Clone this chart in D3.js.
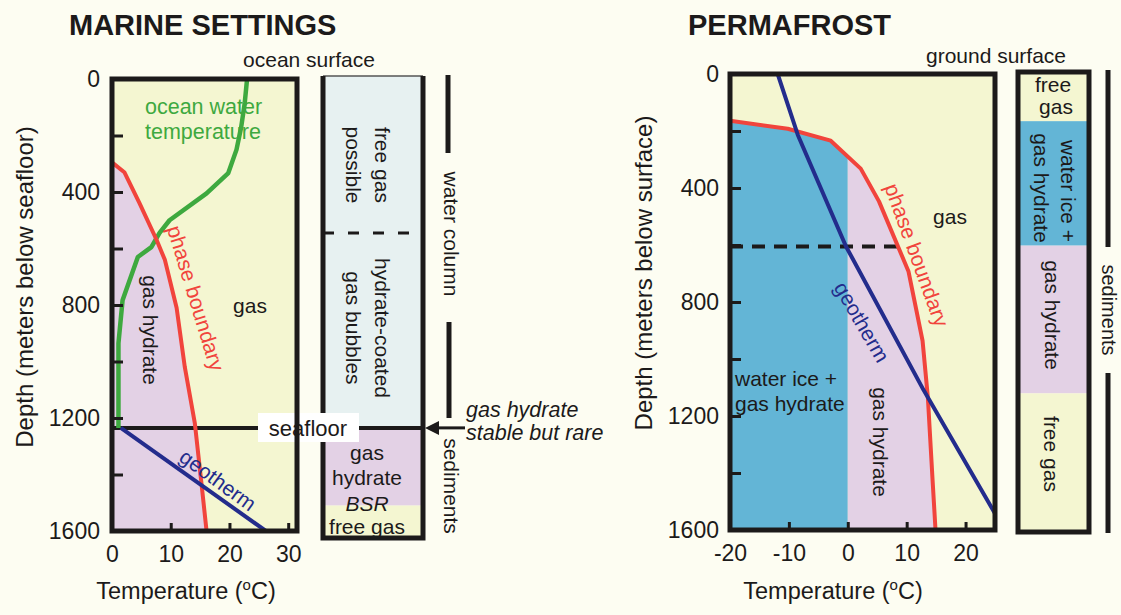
<!DOCTYPE html>
<html><head><meta charset="utf-8">
<script src="https://cdn.jsdelivr.net/npm/d3@7"></script>
<style>
html,body{margin:0;padding:0;background:#fdfdf2;}
svg{display:block;font-family:"Liberation Sans",Arial,Helvetica,sans-serif;}
</style></head><body>
<script>
// ---------- Marine settings panel ----------
const marineDepthTicks = [0, 400, 800, 1200, 1600];
const marineDepthMarks = [200, 400, 600, 800, 1000, 1200, 1400];
const marineTempTicks = [0, 10, 20, 30];
const marineTempMarks = [10, 20, 30];
// curves as [temperature °C, depth m]
const marinePhaseBoundary = [[0, 295], [2.1, 330], [4.7, 440], [7.6, 570], [9.0, 640], [11.0, 810],
  [12.4, 1020], [14.1, 1218], [15.3, 1444], [16.1, 1600]];
const oceanWaterTemperature = [[23.0, 0], [22.6, 85], [22.0, 170], [21.2, 250], [19.8, 333], [16.1, 405],
  [9.8, 500], [8.1, 545], [6.7, 595], [4.4, 630], [1.8, 783], [1.1, 935], [1.1, 1235]];
const marineGeotherm = [[1.5, 1235], [26.2, 1600]];
const seafloorDepth = 1235;
const bubbleLimitDepth = 545;
const marineColumn = [
  { zone: "water", top: 0, bottom: 1235 },
  { zone: "hydrate", top: 1235, bottom: 1510 },
  { zone: "gas", top: 1510, bottom: 1625 }
];

// ---------- Permafrost panel ----------
const permafrostDepthTicks = [0, 400, 800, 1200, 1600];
const permafrostDepthMarks = [200, 400, 600, 800, 1000, 1200, 1400];
const permafrostTempTicks = [-20, -10, 0, 10, 20];
const permafrostTempMarks = [-10, 0, 10, 20];
const permafrostPhaseBoundary = [[-20, 164], [-10.2, 192], [-2.9, 234], [2.2, 332], [5.3, 447],
  [10.3, 692], [12.7, 936], [13.6, 1135], [14.4, 1425], [14.9, 1600]];
const permafrostGeotherm = [[-11.9, 0], [-8.5, 213], [-0.3, 605], [12.9, 1110], [25.5, 1560]];
const permafrostBaseDepth = 605;
const permafrostColumn = [
  { zone: "gas", top: 0, bottom: 171 },
  { zone: "ice", top: 171, bottom: 604 },
  { zone: "hydrate", top: 604, bottom: 1118 },
  { zone: "gas", top: 1118, bottom: 1600 }
];

const zoneFill = { gas: "#f4f6d1", hydrate: "#e3d1e5", ice: "#63b5d6", water: "#e7f1f1" };
const RED = "#f1443c", GREEN = "#3ea93f", NAVY = "#232c8c", INK = "#1c1a1a";
const plainNumber = d => String(d);

const svg = d3.select("body").append("svg").attr("width", 1121).attr("height", 615);

// depth on a [T, depth] curve where it reaches temperature t
function depthAtTemp(curve, t) {
  for (let i = 1; i < curve.length; i++) {
    const [t0, d0] = curve[i - 1], [t1, d1] = curve[i];
    if ((t - t0) * (t - t1) <= 0) return d0 + (d1 - d0) * (t - t0) / (t1 - t0);
  }
  return curve[curve.length - 1][1];
}
function tempAtDepth(curve, d) {
  for (let i = 1; i < curve.length; i++) {
    const [t0, d0] = curve[i - 1], [t1, d1] = curve[i];
    if ((d - d0) * (d - d1) <= 0) return t0 + (t1 - t0) * (d - d0) / (d1 - d0);
  }
  return curve[curve.length - 1][0];
}

function text(g, str, x, y, opts = {}) {
  const t = g.append("text").attr("x", x).attr("y", y)
    .attr("font-size", opts.size || 21)
    .attr("fill", opts.fill || INK)
    .attr("text-anchor", opts.anchor || "middle")
    .attr("dominant-baseline", opts.baseline || "central")
    .text(str);
  if (opts.rotate !== undefined) t.attr("transform", `rotate(${opts.rotate},${x},${y})`);
  if (opts.italic) t.attr("font-style", "italic");
  if (opts.bold) t.attr("font-weight", "bold");
  return t;
}

function tempLabel(g, x, y) {
  const t = g.append("text").attr("x", x).attr("y", y).attr("font-size", 23.5)
    .attr("fill", INK).attr("text-anchor", "middle");
  t.append("tspan").text("Temperature (");
  t.append("tspan").attr("font-size", 15).attr("dy", -9).text("o");
  t.append("tspan").attr("dy", 9).text("C)");
}

function styleAxis(sel, size) {
  sel.select(".domain").remove();
  sel.selectAll("text").attr("font-size", size).attr("fill", INK)
    .attr("font-family", '"Liberation Sans",Arial,sans-serif');
  sel.selectAll("line").attr("stroke", INK).attr("stroke-width", 3);
}

// ======================= MARINE =======================
{
  const x = d3.scaleLinear().domain([0, 31.5]).range([112, 297]);
  const y = d3.scaleLinear().domain([0, 1600]).range([79, 531]);
  const g = svg.append("g");
  const line = d3.line().x(d => x(d[0])).y(d => y(d[1]));

  g.append("clipPath").attr("id", "clipM").append("rect")
    .attr("x", x(0)).attr("y", y(0)).attr("width", x(31.5) - x(0)).attr("height", y(1600) - y(0));

  g.append("rect").attr("x", x(0)).attr("y", y(0)).attr("width", x(31.5) - x(0))
    .attr("height", y(1600) - y(0)).attr("fill", zoneFill.gas);

  // hydrate stability field
  const last = marinePhaseBoundary[marinePhaseBoundary.length - 1];
  g.append("path").attr("d", line([...marinePhaseBoundary, [0, last[1]]]) + "Z").attr("fill", zoneFill.hydrate);

  // side column
  const colL = 323, colR = 423;
  g.selectAll("rect.zone").data(marineColumn).join("rect").attr("class", "zone")
    .attr("x", colL).attr("width", colR - colL)
    .attr("y", d => y(d.top) - (d.top === 0 ? 3 : 0)).attr("height", d => y(d.bottom) - y(d.top) + (d.top === 0 ? 3 : 0))
    .attr("fill", d => zoneFill[d.zone]);
  g.append("line").attr("x1", colL).attr("x2", colR - 10).attr("y1", y(bubbleLimitDepth)).attr("y2", y(bubbleLimitDepth))
    .attr("stroke", INK).attr("stroke-width", 3).attr("stroke-dasharray", "11,14");
  g.append("line").attr("x1", colL).attr("x2", colR).attr("y1", y(0) - 3).attr("y2", y(0) - 3)
    .attr("stroke", "#555").attr("stroke-width", 1.5);
  g.append("path").attr("d", `M${colL},${y(0) - 3}V${y(1625)}H${colR}V${y(0) - 3}`)
    .attr("fill", "none").attr("stroke", INK).attr("stroke-width", 5);

  // seafloor
  const ys = y(seafloorDepth);
  g.append("line").attr("x1", x(0)).attr("x2", colR).attr("y1", ys).attr("y2", ys)
    .attr("stroke", INK).attr("stroke-width", 4);
  g.append("line").attr("x1", colR + 12).attr("x2", 465).attr("y1", ys).attr("y2", ys)
    .attr("stroke", INK).attr("stroke-width", 3);
  g.append("path").attr("d", `M${colR + 2},${ys}L${colR + 16},${ys - 7}L${colR + 16},${ys + 7}Z`).attr("fill", INK);

  const curves = g.append("g").attr("clip-path", "url(#clipM)");
  curves.append("path").attr("d", line(oceanWaterTemperature)).attr("fill", "none")
    .attr("stroke", GREEN).attr("stroke-width", 4.5).attr("stroke-linejoin", "round");
  curves.append("path").attr("d", line(marinePhaseBoundary)).attr("fill", "none")
    .attr("stroke", RED).attr("stroke-width", 4).attr("stroke-linejoin", "round");
  curves.append("path").attr("d", line(marineGeotherm)).attr("fill", "none")
    .attr("stroke", NAVY).attr("stroke-width", 4);

  // seafloor label
  g.append("rect").attr("x", 258).attr("y", 413).attr("width", 101).attr("height", 29).attr("fill", "#fff");
  text(g, "seafloor", 308, 428, { size: 22 });

  // frame
  g.append("rect").attr("x", x(0)).attr("y", y(0)).attr("width", x(31.5) - x(0))
    .attr("height", y(1600) - y(0)).attr("fill", "none").attr("stroke", INK).attr("stroke-width", 5);

  // ticks
  g.append("g").attr("transform", `translate(${x(0)},0)`)
    .call(d3.axisLeft(y).tickValues(marineDepthMarks).tickSize(-11).tickFormat(""))
    .call(s => styleAxis(s, 23));
  g.append("g").attr("transform", `translate(${x(0)},0)`)
    .call(d3.axisLeft(y).tickValues(marineDepthTicks).tickSize(0).tickPadding(12).tickFormat(plainNumber))
    .call(s => styleAxis(s, 23));
  g.append("g").attr("transform", `translate(0,${y(1600)})`)
    .call(d3.axisBottom(x).tickValues(marineTempMarks).tickSize(-8).tickFormat(""))
    .call(s => styleAxis(s, 23));
  g.append("g").attr("transform", `translate(0,${y(1600)})`)
    .call(d3.axisBottom(x).tickValues(marineTempTicks).tickSize(0).tickPadding(15).tickFormat(plainNumber))
    .call(s => styleAxis(s, 23));

  // labels
  text(g, "MARINE SETTINGS", 69, 35, { size: 29, bold: true, anchor: "start", baseline: "auto" });
  text(g, "ocean surface", 309, 67, { size: 21, baseline: "auto" });
  text(g, "Depth (meters below seafloor)", 33, 287, { size: 24, rotate: -90, baseline: "auto" });
  tempLabel(g, 186, 599);
  text(g, "ocean water", 145, 107, { size: 21.5, fill: GREEN, anchor: "start" });
  text(g, "temperature", 145, 132, { size: 21.5, fill: GREEN, anchor: "start" });
  text(g, "gas hydrate", 150, 330, { size: 21, rotate: 90 });
  text(g, "phase boundary", 196, 298, { size: 21, fill: RED, rotate: 73 });
  text(g, "gas", 250, 305, { size: 21 });
  text(g, "geotherm", 218, 480, { size: 21, fill: NAVY, rotate: 36 });

  text(g, "free gas", 382, 165, { size: 21, rotate: 90 });
  text(g, "possible", 353, 165, { size: 21, rotate: 90 });
  text(g, "hydrate-coated", 382, 328, { size: 21, rotate: 90 });
  text(g, "gas bubbles", 353, 328, { size: 21, rotate: 90 });
  text(g, "gas", 367, 452, { size: 21 });
  text(g, "hydrate", 367, 477, { size: 21 });
  text(g, "BSR", 367, 503, { size: 21, italic: true });
  text(g, "free gas", 367, 526, { size: 21 });

  text(g, "gas hydrate", 466, 410, { size: 21.5, italic: true, anchor: "start" });
  text(g, "stable but rare", 466, 433, { size: 21.5, italic: true, anchor: "start" });

  // bracket
  g.append("line").attr("x1", 448).attr("x2", 448).attr("y1", 75).attr("y2", 153).attr("stroke", INK).attr("stroke-width", 5);
  g.append("line").attr("x1", 449).attr("x2", 449).attr("y1", 322).attr("y2", 418).attr("stroke", INK).attr("stroke-width", 5);
  text(g, "water column", 451, 234, { size: 21, rotate: 90 });
  text(g, "sediments", 451, 486, { size: 21, rotate: 90 });
}

// ======================= PERMAFROST =======================
{
  const x = d3.scaleLinear().domain([-20, 25]).range([730, 995]);
  const y = d3.scaleLinear().domain([0, 1600]).range([74, 530]);
  const g = svg.append("g");
  const line = d3.line().x(d => x(d[0])).y(d => y(d[1]));

  g.append("clipPath").attr("id", "clipP").append("rect")
    .attr("x", x(-20)).attr("y", y(0)).attr("width", x(25) - x(-20)).attr("height", y(1600) - y(0));

  g.append("rect").attr("x", x(-20)).attr("y", y(0)).attr("width", x(25) - x(-20))
    .attr("height", y(1600) - y(0)).attr("fill", zoneFill.gas);

  const d0 = depthAtTemp(permafrostPhaseBoundary, 0);
  const cold = permafrostPhaseBoundary.filter(p => p[0] < 0);
  const warm = permafrostPhaseBoundary.filter(p => p[0] > 0);
  g.append("path").attr("d", line([...cold, [0, d0], [0, 1600], [-20, 1600]]) + "Z").attr("fill", zoneFill.ice);
  g.append("path").attr("d", line([[0, d0], ...warm, [0, 1600]]) + "Z").attr("fill", zoneFill.hydrate);

  // base of permafrost
  const tb = tempAtDepth(permafrostPhaseBoundary, permafrostBaseDepth);
  g.append("line").attr("x1", x(-20)).attr("x2", x(tb)).attr("y1", y(permafrostBaseDepth)).attr("y2", y(permafrostBaseDepth))
    .attr("stroke", INK).attr("stroke-width", 4).attr("stroke-dasharray", "13,9");

  const curves = g.append("g").attr("clip-path", "url(#clipP)");
  curves.append("path").attr("d", line(permafrostPhaseBoundary)).attr("fill", "none")
    .attr("stroke", RED).attr("stroke-width", 4).attr("stroke-linejoin", "round");
  curves.append("path").attr("d", line(permafrostGeotherm)).attr("fill", "none")
    .attr("stroke", NAVY).attr("stroke-width", 4).attr("stroke-linejoin", "round");

  g.append("rect").attr("x", x(-20)).attr("y", y(0)).attr("width", x(25) - x(-20))
    .attr("height", y(1600) - y(0)).attr("fill", "none").attr("stroke", INK).attr("stroke-width", 5);

  g.append("g").attr("transform", `translate(${x(-20)},0)`)
    .call(d3.axisLeft(y).tickValues(permafrostDepthMarks).tickSize(-11).tickFormat(""))
    .call(s => styleAxis(s, 23));
  g.append("g").attr("transform", `translate(${x(-20)},0)`)
    .call(d3.axisLeft(y).tickValues(permafrostDepthTicks).tickSize(0).tickPadding(11).tickFormat(plainNumber))
    .call(s => styleAxis(s, 23));
  g.append("g").attr("transform", `translate(0,${y(1600)})`)
    .call(d3.axisBottom(x).tickValues(permafrostTempMarks).tickSize(-8).tickFormat(""))
    .call(s => styleAxis(s, 23));
  g.append("g").attr("transform", `translate(0,${y(1600)})`)
    .call(d3.axisBottom(x).tickValues(permafrostTempTicks).tickSize(0).tickPadding(15).tickFormat(plainNumber))
    .call(s => styleAxis(s, 23));

  // side column
  const cy = d3.scaleLinear().domain([0, 1600]).range([72, 532]);
  const colL = 1018, colR = 1089;
  g.selectAll("rect.zone").data(permafrostColumn).join("rect").attr("class", "zone")
    .attr("x", colL).attr("width", colR - colL)
    .attr("y", d => cy(d.top)).attr("height", d => cy(d.bottom) - cy(d.top))
    .attr("fill", d => zoneFill[d.zone]);
  g.append("rect").attr("x", colL).attr("y", cy(0)).attr("width", colR - colL).attr("height", cy(1600) - cy(0))
    .attr("fill", "none").attr("stroke", INK).attr("stroke-width", 5);

  text(g, "free", 1053, 84, { size: 21 });
  text(g, "gas", 1056, 106, { size: 21 });
  text(g, "water ice +", 1068, 191, { size: 21, rotate: 90 });
  text(g, "gas hydrate", 1041, 188, { size: 21, rotate: 90 });
  text(g, "gas hydrate", 1052, 315, { size: 21, rotate: 90 });
  text(g, "free gas", 1051, 454, { size: 21, rotate: 90 });

  g.append("line").attr("x1", 1108).attr("x2", 1108).attr("y1", 70).attr("y2", 247).attr("stroke", INK).attr("stroke-width", 5);
  g.append("line").attr("x1", 1108).attr("x2", 1108).attr("y1", 373).attr("y2", 533).attr("stroke", INK).attr("stroke-width", 5);
  text(g, "sediments", 1109, 310, { size: 20, rotate: 90 });

  text(g, "PERMAFROST", 688, 35, { size: 29, bold: true, anchor: "start", baseline: "auto" });
  text(g, "ground surface", 996, 63, { size: 21, baseline: "auto" });
  text(g, "Depth (meters below surface)", 652, 273, { size: 24, rotate: -90, baseline: "auto" });
  tempLabel(g, 833, 599);

  text(g, "gas", 950, 216, { size: 21 });
  text(g, "phase boundary", 917, 255, { size: 21, fill: RED, rotate: 70 });
  text(g, "geotherm", 862, 322, { size: 21, fill: NAVY, rotate: 60 });
  text(g, "water ice +", 735, 378, { size: 21, anchor: "start" });
  text(g, "gas hydrate", 735, 403, { size: 21, anchor: "start" });
  text(g, "gas hydrate", 880, 442, { size: 21, rotate: 90 });
}
</script>
</body></html>
